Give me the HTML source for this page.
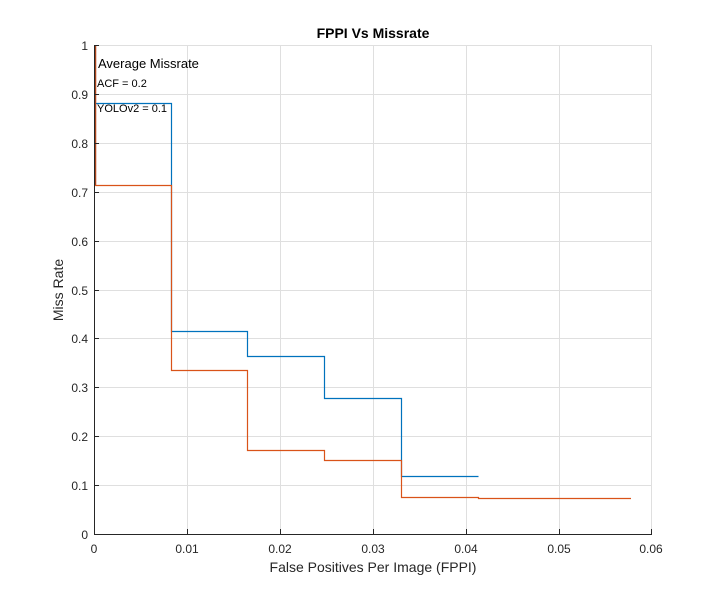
<!DOCTYPE html>
<html><head><style>body{margin:0;background:#fff}</style></head><body>
<svg width="720" height="600" xmlns="http://www.w3.org/2000/svg" font-family="Liberation Sans, sans-serif">
<rect width="720" height="600" fill="#fff"/>
<g stroke="#dfdfdf" stroke-width="1">
<line x1="187.5" y1="45" x2="187.5" y2="534"/><line x1="280.5" y1="45" x2="280.5" y2="534"/>
<line x1="373.5" y1="45" x2="373.5" y2="534"/><line x1="466.5" y1="45" x2="466.5" y2="534"/>
<line x1="559.5" y1="45" x2="559.5" y2="534"/><line x1="651.5" y1="45" x2="651.5" y2="534"/>
<line x1="94" y1="45.5" x2="652" y2="45.5"/><line x1="94" y1="94.5" x2="652" y2="94.5"/>
<line x1="94" y1="143.5" x2="652" y2="143.5"/><line x1="94" y1="192.5" x2="652" y2="192.5"/>
<line x1="94" y1="241.5" x2="652" y2="241.5"/><line x1="94" y1="290.5" x2="652" y2="290.5"/>
<line x1="94" y1="338.5" x2="652" y2="338.5"/><line x1="94" y1="387.5" x2="652" y2="387.5"/>
<line x1="94" y1="436.5" x2="652" y2="436.5"/><line x1="94" y1="485.5" x2="652" y2="485.5"/>
</g>
<polyline fill="none" stroke="#0072bd" stroke-width="1.2" points="95.5,103.5 171.5,103.5 171.5,331.5 247.5,331.5 247.5,356.5 324.5,356.5 324.5,398.5 401.5,398.5 401.5,476.5 478.5,476.5"/>
<polyline fill="none" stroke="#d95319" stroke-width="1.2" points="95.5,45 95.5,185.5 171.5,185.5 171.5,370.5 247.5,370.5 247.5,450.5 324.5,450.5 324.5,460.5 401.5,460.5 401.5,497.5 478.5,497.5 478.5,498.5 631,498.5"/>
<line x1="95.5" y1="45" x2="95.5" y2="185" stroke="#a9441c" stroke-width="1.4"/>
<g stroke="#262626" stroke-width="1">
<line x1="94.5" y1="45" x2="94.5" y2="534.5"/><line x1="94" y1="534.5" x2="652" y2="534.5"/>
<line x1="187.5" y1="534" x2="187.5" y2="529"/><line x1="280.5" y1="534" x2="280.5" y2="529"/>
<line x1="373.5" y1="534" x2="373.5" y2="529"/><line x1="466.5" y1="534" x2="466.5" y2="529"/>
<line x1="559.5" y1="534" x2="559.5" y2="529"/><line x1="651.5" y1="534" x2="651.5" y2="529"/>
<line x1="94" y1="45.5" x2="99" y2="45.5"/><line x1="94" y1="94.5" x2="99" y2="94.5"/>
<line x1="94" y1="143.5" x2="99" y2="143.5"/><line x1="94" y1="192.5" x2="99" y2="192.5"/>
<line x1="94" y1="241.5" x2="99" y2="241.5"/><line x1="94" y1="290.5" x2="99" y2="290.5"/>
<line x1="94" y1="338.5" x2="99" y2="338.5"/><line x1="94" y1="387.5" x2="99" y2="387.5"/>
<line x1="94" y1="436.5" x2="99" y2="436.5"/><line x1="94" y1="485.5" x2="99" y2="485.5"/>
</g>
<g font-size="12" fill="#262626" text-anchor="middle">
<text x="94" y="553">0</text><text x="187" y="553">0.01</text><text x="280" y="553">0.02</text>
<text x="373" y="553">0.03</text><text x="466" y="553">0.04</text><text x="559" y="553">0.05</text><text x="651" y="553">0.06</text>
</g>
<g font-size="12" fill="#262626" text-anchor="end">
<text x="88" y="50">1</text><text x="88" y="99">0.9</text><text x="88" y="148">0.8</text><text x="88" y="197">0.7</text>
<text x="88" y="246">0.6</text><text x="88" y="295">0.5</text><text x="88" y="343">0.4</text><text x="88" y="392">0.3</text>
<text x="88" y="441">0.2</text><text x="88" y="490">0.1</text><text x="88" y="539">0</text>
</g>
<text x="373" y="572" font-size="14" fill="#262626" text-anchor="middle">False Positives Per Image (FPPI)</text>
<text transform="translate(63,290) rotate(-90)" font-size="14" fill="#262626" text-anchor="middle">Miss Rate</text>
<text x="373" y="38" font-size="14" font-weight="bold" fill="#000" text-anchor="middle">FPPI Vs Missrate</text>
<text x="98" y="68" font-size="13" fill="#000">Average Missrate</text>
<text x="97" y="87" font-size="11" fill="#000">ACF = 0.2</text>
<text x="97" y="112" font-size="11" fill="#000">YOLOv2 = 0.1</text>
</svg>
</body></html>
